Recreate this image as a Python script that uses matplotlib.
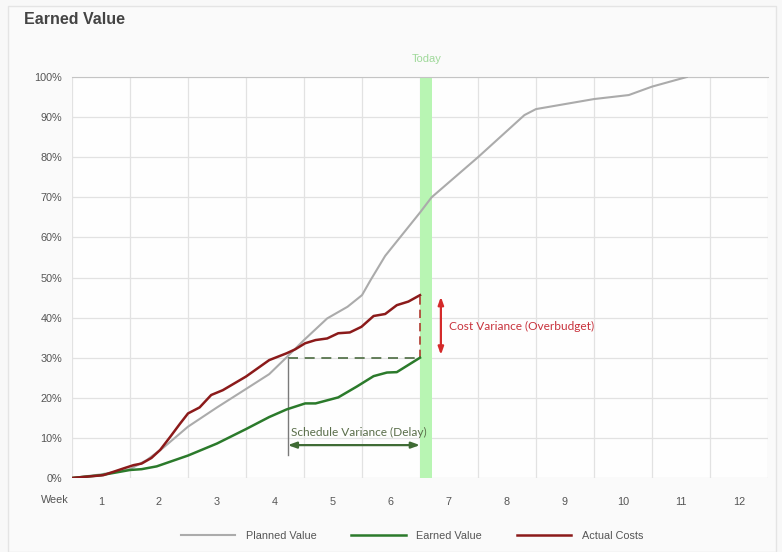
import numpy as np
import matplotlib
matplotlib.use("Agg")
import matplotlib.pyplot as plt
import matplotlib.transforms as mtransforms
from matplotlib.patches import Rectangle

# Planned value (gray)
pv_weeks = [0, 0.5, 1.0, 1.29, 1.57, 2.0, 2.5, 3.0, 3.4, 3.7, 4.0, 4.4, 4.75, 5.0, 5.15,
            5.4, 6.0, 6.2, 7.0, 7.8, 8.0, 8.4, 9.0, 9.6, 10.0, 10.6]
pv = [0, 0.9, 2.2, 4.5, 7.5, 12.8, 17.6, 22.2, 25.9, 30.1, 34.4, 39.8, 42.7, 45.6, 49.4,
      55.4, 66.2, 70.0, 80.0, 90.5, 92.0, 93.0, 94.5, 95.5, 97.6, 100]

# Earned value (green)
ev_weeks = [0, 0.5, 1.0, 1.2, 1.46, 2.0, 2.5, 3.0, 3.4, 3.7, 4.02, 4.2, 4.59, 4.91,
            5.2, 5.43, 5.6, 6.0]
ev = [0, 0.7, 2.0, 2.2, 2.9, 5.6, 8.6, 12.2, 15.2, 17.1, 18.6, 18.6, 20.1, 22.8,
      25.4, 26.3, 26.4, 30.0]

# Actual costs (red)
ac_weeks = [0, 0.54, 0.89, 1.06, 1.2, 1.37, 1.52, 1.69, 1.86, 2.0, 2.2, 2.4, 2.6, 3.0,
            3.4, 3.7, 3.85, 4.02, 4.2, 4.4, 4.59, 4.79, 4.99, 5.2, 5.4, 5.6, 5.8, 6.0]
ac = [0, 0.7, 2.4, 3.2, 3.6, 5.0, 7.0, 10.2, 13.5, 16.1, 17.6, 20.7, 21.9, 25.3,
      29.4, 31.1, 32.1, 33.6, 34.4, 34.8, 36.1, 36.3, 37.7, 40.4, 40.9, 43.1, 44.0, 45.6]

week_labels = [str(i) for i in range(1, 13)]
today = 6.0
today_width = 0.2
sv_start = 3.72   # week where planned value reached today's earned value
ev_today = 30.0
ac_today = 45.6

plt.rcParams['font.family'] = ['Liberation Sans', 'DejaVu Sans']

fig = plt.figure(figsize=(7.82, 5.52), dpi=100, facecolor='#f8f8f8')
fig.patches.append(Rectangle((8 / 782, 0), 768 / 782, 546 / 552, transform=fig.transFigure,
                             facecolor='#fafafa', edgecolor='#e4e4e4', lw=1, zorder=-5))
ax = fig.add_axes([72 / 782, 1 - 478 / 552, 696 / 782, 401 / 552])
ax.set_facecolor('#fefefe')

ax.set_xlim(0, 12)
ax.set_ylim(0, 100)

# today band
ax.axvspan(today, today + today_width, color='#b8f5b3', zorder=1, lw=0)
ax.text(today + today_width / 2 + 0.02, 104.5, 'Today', ha='center', va='center', fontsize=8,
        color='#9fd99a')

ax.plot(pv_weeks, pv, color='#ababab', lw=1.5, zorder=3, label='Planned Value')
ax.plot(ev_weeks, ev, color='#2b7a2b', lw=1.8, zorder=4, label='Earned Value')
ax.plot(ac_weeks, ac, color='#8b1a1a', lw=1.8, zorder=4, label='Actual Costs')

# variance helpers
ax.plot([sv_start, today], [ev_today, ev_today], color='#4b6b40', lw=1.2, ls=(0, (6, 4)), zorder=3)
ax.plot([today, today], [ev_today, ac_today], color='#b03a2e', lw=1.2, ls=(0, (5, 3)), zorder=3)
ax.plot([sv_start, sv_start], [5.7, ev_today], color='#7a7a7a', lw=1.0, zorder=3)

ax.annotate('', xy=(today, 8.2), xytext=(sv_start, 8.2),
            arrowprops=dict(arrowstyle='<|-|>,head_length=0.5,head_width=0.18',
                            color='#3f6b35', lw=1.6, shrinkA=0, shrinkB=0))
ax.text(4.95, 11.4, 'Schedule Variance (Delay)', ha='center', va='center',
        fontsize=8.6, color='#5a6e4a', family=['Lato', 'DejaVu Sans'])

ax.annotate('', xy=(6.36, 45.2), xytext=(6.36, 30.7),
            arrowprops=dict(arrowstyle='<|-|>,head_length=0.45,head_width=0.16',
                            color='#d42a2a', lw=1.6, shrinkA=0, shrinkB=0))
ax.text(6.5, 37.7, 'Cost Variance (Overbudget)', ha='left', va='center',
        fontsize=8.6, color='#c8323c', family=['Lato', 'DejaVu Sans'])

# axes styling
ax.set_xticks(np.arange(0.5, 12, 1))
ax.set_xticklabels(week_labels)
ax.set_xticks(np.arange(0, 13, 1), minor=True)
ax.set_yticks(np.arange(0, 101, 10))
ax.set_yticklabels([f'{v}%' for v in range(0, 101, 10)])
ax.tick_params(axis='both', which='both', length=0, labelsize=7.8, colors='#555555')
ax.tick_params(axis='x', pad=14)
ax.tick_params(axis='y', pad=7)
ax.grid(which='minor', axis='x', color='#e2e2e2', lw=0.9, zorder=0)
ax.grid(which='major', axis='y', color='#e2e2e2', lw=0.9, zorder=0)
ax.set_axisbelow(True)
for side in ['left', 'right', 'bottom']:
    ax.spines[side].set_visible(False)
ax.spines['top'].set_color('#c4c4c4')

trans = mtransforms.blended_transform_factory(ax.transData, ax.transAxes)
ax.text(-0.29, -0.055, 'Week', transform=trans, ha='center', va='center', fontsize=7.8,
        color='#555555')

fig.text(24 / 782, 1 - 19 / 552, 'Earned Value', fontsize=11.5, fontweight='bold',
         color='#444444', ha='left', va='center')

handles, labels = ax.get_legend_handles_labels()
fig.legend(handles, labels, loc='center', bbox_to_anchor=(0.527, 1 - 536 / 552), ncol=3,
           frameon=False, fontsize=7.8, handlelength=5.0, handletextpad=1.0,
           columnspacing=3.2, labelcolor='#555555')

fig.savefig('out.png', dpi=100, facecolor=fig.get_facecolor())
